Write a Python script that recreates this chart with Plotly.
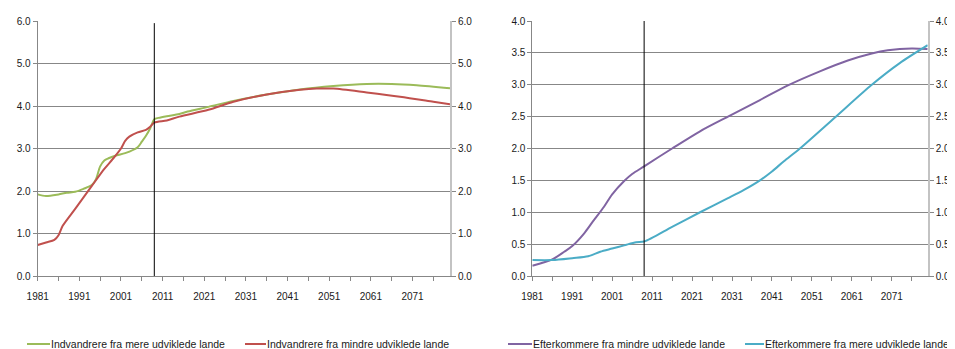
import plotly.graph_objects as go

# ---------------- data ----------------
imm_more_years = [1981, 1983, 1986, 1988, 1990, 1992, 1994, 1995, 1996, 1997, 1998, 2000, 2002,
                  2005, 2006, 2007, 2008, 2009, 2010, 2012, 2015, 2017, 2022, 2028, 2036, 2044,
                  2052, 2060, 2066, 2072, 2080]
imm_more_vals = [1.92, 1.88, 1.92, 1.96, 1.98, 2.05, 2.14, 2.28, 2.58, 2.72, 2.77, 2.84, 2.89,
                 3.03, 3.16, 3.30, 3.47, 3.69, 3.72, 3.76, 3.81, 3.87, 3.98, 4.12, 4.27, 4.39,
                 4.47, 4.52, 4.52, 4.49, 4.42]

imm_less_years = [1981, 1983, 1985, 1986, 1987, 1990, 1994, 1997, 1999, 2001, 2002, 2003, 2005,
                  2007, 2008, 2009, 2012, 2015, 2022, 2028, 2036, 2044, 2048, 2052, 2060, 2068,
                  2076, 2080]
imm_less_vals = [0.73, 0.79, 0.85, 0.96, 1.18, 1.58, 2.12, 2.52, 2.75, 3.00, 3.18, 3.28, 3.38,
                 3.44, 3.51, 3.61, 3.66, 3.75, 3.91, 4.10, 4.27, 4.38, 4.41, 4.41, 4.32, 4.22,
                 4.10, 4.04]

desc_less_years = [1981, 1986, 1989, 1991, 1994, 1996, 1999, 2001, 2004, 2006, 2009, 2016, 2023,
                   2030, 2038, 2045, 2053, 2060, 2066, 2070, 2076, 2080]
desc_less_vals = [0.16, 0.26, 0.38, 0.47, 0.67, 0.84, 1.09, 1.28, 1.49, 1.60, 1.72, 2.00, 2.27,
                  2.50, 2.76, 2.99, 3.21, 3.38, 3.49, 3.54, 3.57, 3.56]

desc_more_years = [1981, 1986, 1991, 1995, 1998, 2001, 2004, 2007, 2009, 2016, 2023, 2030, 2034,
                   2038, 2041, 2044, 2048, 2057, 2066, 2073, 2080]
desc_more_vals = [0.25, 0.25, 0.28, 0.31, 0.38, 0.43, 0.48, 0.53, 0.54, 0.77, 1.00, 1.22, 1.35,
                  1.50, 1.64, 1.80, 2.00, 2.50, 3.00, 3.34, 3.62]

names_left = ["Indvandrere fra mere udviklede lande", "Indvandrere fra mindre udviklede lande"]
names_right = ["Efterkommere fra mindre udviklede lande", "Efterkommere fra mere udviklede lande"]

tick_years = list(range(1981, 2077, 5))
tick_labels = [str(y) if (y - 1981) % 10 == 0 else "" for y in tick_years]
left_y_ticks = [0, 1, 2, 3, 4, 5, 6]
right_y_ticks = [0, 0.5, 1, 1.5, 2, 2.5, 3, 3.5, 4]
split_year = 2009

# ---------------- styles ----------------
FONT = "Liberation Sans, Arial, sans-serif"
FS = 10
GRID = "#878787"
GREEN, RED, PURPLE, CYAN = "#9BBB59", "#C0504D", "#8064A2", "#4BACC6"
WIN_W, WIN_H = 955, 349
OFF = 8                      # page body margin around the figure
W, H = WIN_W - OFF, WIN_H - OFF
def px_y(pix):               # window pixel -> paper fraction
    return (WIN_H - pix) / H
def px_x(pix):
    return (pix - OFF) / W

fig = go.Figure()

def add(x, y, name, color, xa, ya):
    fig.add_trace(go.Scatter(x=x, y=y, name=name, mode="lines", showlegend=False,
                             line=dict(color=color, width=2, shape="spline", smoothing=0.8),
                             xaxis=xa, yaxis=ya))

add(imm_more_years, imm_more_vals, names_left[0], GREEN, "x", "y")
add(imm_less_years, imm_less_vals, names_left[1], RED, "x", "y2")
add(desc_less_years, desc_less_vals, names_right[0], PURPLE, "x2", "y3")
add(desc_more_years, desc_more_vals, names_right[1], CYAN, "x2", "y4")

tfont = dict(family=FONT, size=FS, color="#1a1a1a")
xcommon = dict(range=[1981, 2080], tickvals=tick_years, ticktext=tick_labels,
               ticks="outside", ticklen=4, tickcolor=GRID, showline=True, linecolor=GRID,
               linewidth=1, showgrid=False, zeroline=False, tickangle=0, automargin=False,
               ticklabelstandoff=7, tickfont=tfont)
ydom = [px_y(276), px_y(21)]
ybase = dict(zeroline=False, ticks="outside", ticklen=4, tickcolor=GRID, showline=True,
             tickfont=tfont, tickformat=".1f", domain=ydom, automargin=False)

fig.update_layout(
    width=W, height=H, autosize=False,
    margin=dict(l=0, r=0, t=0, b=0, pad=0),
    paper_bgcolor="white", plot_bgcolor="white",
    font=dict(family=FONT, size=FS, color="#1a1a1a"),
    showlegend=False,
    xaxis=dict(domain=[px_x(37.7), px_x(450)], anchor="y", **xcommon),
    yaxis=dict(anchor="x", range=[0, 6], tickvals=left_y_ticks, linecolor=GRID, linewidth=1,
               showgrid=True, gridcolor=GRID, gridwidth=1, **ybase),
    yaxis2=dict(anchor="x", overlaying="y", side="right", range=[0, 6], tickvals=left_y_ticks,
                linecolor="#c3c3c3", linewidth=2, showgrid=False, **ybase),
    xaxis2=dict(domain=[px_x(532.3), px_x(927.7)], anchor="y3", **xcommon),
    yaxis3=dict(anchor="x2", range=[0, 4], tickvals=right_y_ticks, linecolor=GRID, linewidth=1,
                showgrid=True, gridcolor=GRID, gridwidth=1, **ybase),
    yaxis4=dict(anchor="x2", overlaying="y3", side="right", range=[0, 4], tickvals=right_y_ticks,
                linecolor="#c3c3c3", linewidth=2, showgrid=False, **ybase),
)

# vertical separator between observed and projected years
fig.add_shape(type="line", xref="x", yref="y", x0=split_year, x1=split_year, y0=0, y1=5.95,
              line=dict(color="black", width=1))
fig.add_shape(type="line", xref="x2", yref="y3", x0=split_year, x1=split_year, y0=0, y1=4.0,
              line=dict(color="black", width=1))

# legends (key line + label) under each panel
legend_items = [
    (names_left[0], GREEN, 27, 50),
    (names_left[1], RED, 245, 266),
    (names_right[0], PURPLE, 508, 532),
    (names_right[1], CYAN, 745, 764),
]
ly = px_y(344)
for name, color, x0, x1 in legend_items:
    fig.add_shape(type="line", xref="paper", yref="paper", x0=px_x(x0), x1=px_x(x1), y0=ly, y1=ly,
                  line=dict(color=color, width=2))
    fig.add_annotation(text=name, xref="paper", yref="paper", x=px_x(x1), y=ly,
                       xanchor="left", yanchor="middle", showarrow=False,
                       font=dict(family=FONT, size=10.5, color="#1a1a1a"), borderpad=0)

fig.write_html("out.html")
